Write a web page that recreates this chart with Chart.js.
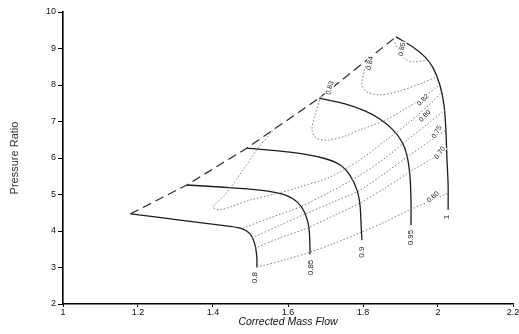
<!DOCTYPE html>
<html>
<head>
<meta charset="utf-8">
<script src="https://cdn.jsdelivr.net/npm/chart.js@4/dist/chart.umd.min.js"></script>
<style>
  html, body { margin: 0; padding: 0; background: #fff; }
  #map { display: block; }
</style>
</head>
<body>
<canvas id="map" width="519" height="334"></canvas>
<script>
// axis ticks
const xTickValues = [1, 1.2, 1.4, 1.6, 1.8, 2, 2.2];
const xTickLabels = ['1', '1.2', '1.4', '1.6', '1.8', '2', '2.2'];
const yTickValues = [2, 3, 4, 5, 6, 7, 8, 9, 10];
const yTickLabels = ['2', '3', '4', '5', '6', '7', '8', '9', '10'];

// surge line  [mass flow, pressure ratio]
const surgeLine = [[1.18, 4.47], [1.33, 5.26], [1.49, 6.27], [1.683, 7.64], [1.888, 9.32]];

// corrected speed lines
const speedNames = ['0.8', '0.85', '0.9', '0.95', '1'];
const speed080 = [[1.18, 4.47], [1.312, 4.30], [1.419, 4.16], [1.472, 4.08], [1.499, 3.92], [1.512, 3.62], [1.517, 3.26], [1.517, 3.01]];
const speed085 = [[1.33, 5.26], [1.419, 5.205], [1.525, 5.12], [1.592, 4.99], [1.627, 4.77], [1.645, 4.49], [1.656, 4.08], [1.659, 3.36]];
const speed090 = [[1.49, 6.27], [1.605, 6.16], [1.693, 6.0], [1.739, 5.81], [1.765, 5.53], [1.784, 5.12], [1.792, 4.71], [1.795, 4.16], [1.797, 3.75]];
const speed095 = [[1.683, 7.64], [1.752, 7.48], [1.805, 7.29], [1.845, 7.07], [1.88, 6.77], [1.904, 6.44], [1.917, 6.08], [1.925, 5.53], [1.928, 4.85], [1.928, 4.16]];
const speed100 = [[1.888, 9.32], [1.933, 9.04], [1.965, 8.77], [1.987, 8.47], [2.005, 8.0], [2.016, 7.45], [2.021, 6.77], [2.024, 5.95], [2.027, 5.26], [2.027, 4.58]];
const speedLabelAt = [[1.512, 2.72], [1.661, 3.0], [1.797, 3.42], [1.928, 3.82], [2.024, 4.38]];

// efficiency contours
const effNames = ['0.60', '0.70', '0.75', '0.80', '0.82', '0.83', '0.84', '0.85'];
const eff060 = [[1.517, 3.01], [1.592, 3.21], [1.659, 3.42], [1.725, 3.67], [1.792, 3.95], [1.859, 4.25], [1.925, 4.58], [1.979, 4.82], [2.027, 5.04]];
const eff070 = [[1.512, 3.53], [1.579, 3.81], [1.651, 4.08], [1.72, 4.41], [1.792, 4.77], [1.859, 5.18], [1.925, 5.62], [1.979, 5.95], [2.024, 6.22]];
const eff075 = [[1.504, 3.81], [1.579, 4.16], [1.651, 4.49], [1.72, 4.79], [1.792, 5.12], [1.859, 5.59], [1.925, 6.08], [1.979, 6.47], [2.021, 6.77]];
const eff080 = [[1.48, 4.08], [1.552, 4.36], [1.632, 4.66], [1.712, 5.07], [1.792, 5.53], [1.859, 6.0], [1.925, 6.55], [1.979, 6.99], [2.019, 7.32]];
const eff082 = [[1.565, 6.81], [1.52, 6.27], [1.48, 5.67], [1.432, 4.99], [1.40, 4.66], [1.419, 4.58], [1.499, 4.85], [1.565, 5.01], [1.632, 5.21], [1.712, 5.48], [1.792, 5.95], [1.859, 6.47], [1.925, 6.99], [1.979, 7.48], [2.011, 7.81]];
const eff083 = [[1.688, 7.68], [1.672, 7.18], [1.664, 6.77], [1.675, 6.55], [1.707, 6.49], [1.752, 6.60], [1.792, 6.77], [1.859, 7.04], [1.925, 7.42], [1.965, 7.70], [2.0, 7.97]];
const eff084 = [[1.813, 8.71], [1.803, 8.36], [1.797, 8.0], [1.811, 7.81], [1.845, 7.73], [1.899, 7.84], [1.952, 8.03], [1.995, 8.22]];
const eff085 = [[1.88, 9.25], [1.899, 8.90], [1.912, 8.71], [1.933, 8.63], [1.968, 8.68]];
const effLabelAt = [[1.987, 4.93], [2.005, 6.14], [1.997, 6.71], [1.965, 7.15], [1.96, 7.59], [1.712, 7.92], [1.819, 8.60], [1.904, 8.98]];
const effLabelAngle = [-40, -55, -60, -45, -45, -75, -80, -80];

const toPts = arr => arr.map(p => ({ x: p[0], y: p[1] }));

const speedSets = [speed080, speed085, speed090, speed095, speed100].map(s => ({
    data: toPts(s),
    showLine: true,
    borderColor: '#1c1c1c',
    borderWidth: 1.3,
    pointRadius: 0,
    tension: 0.3
}));

const effSets = [eff060, eff070, eff075, eff080, eff082, eff083, eff084, eff085].map(s => ({
    data: toPts(s),
    showLine: true,
    borderColor: '#7a7a7a',
    borderWidth: 1,
    borderDash: [1.5, 2],
    pointRadius: 0,
    tension: 0.3
}));

const surgeSet = {
    data: toPts(surgeLine),
    showLine: true,
    borderColor: '#2a2a2a',
    borderWidth: 1.2,
    borderDash: [9, 5],
    pointRadius: 0,
    tension: 0
};

// inline contour labels, drawn in data coordinates
const labelPlugin = {
    id: 'mapLabels',
    afterDatasetsDraw(chart) {
        const { ctx, scales: { x, y } } = chart;
        const put = (text, pos, angle, size) => {
            const px = x.getPixelForValue(pos[0]);
            const py = y.getPixelForValue(pos[1]);
            ctx.save();
            ctx.translate(px, py);
            ctx.rotate(angle * Math.PI / 180);
            ctx.font = size + 'px "Liberation Sans", Arial, sans-serif';
            ctx.textAlign = 'center';
            ctx.textBaseline = 'middle';
            const w = ctx.measureText(text).width;
            ctx.fillStyle = '#fff';
            ctx.fillRect(-w / 2 - 1, -size / 2, w + 2, size);
            ctx.fillStyle = '#222';
            ctx.fillText(text, 0, 0);
            ctx.restore();
        };
        speedNames.forEach((t, i) => put(t, speedLabelAt[i], -90, 8));
        effNames.forEach((t, i) => put(t, effLabelAt[i], effLabelAngle[i], 7));
    }
};

new Chart(document.getElementById('map'), {
    type: 'scatter',
    data: { datasets: [...effSets, surgeSet, ...speedSets] },
    options: {
        responsive: false,
        animation: false,
        events: [],
        layout: { padding: { top: 12, right: 6, left: 0, bottom: 0 } },
        plugins: {
            legend: { display: false },
            tooltip: { enabled: false }
        },
        scales: {
            x: {
                type: 'linear',
                min: 1,
                max: 2.2,
                afterBuildTicks: scale => { scale.ticks = xTickValues.map(v => ({ value: v })); },
                afterFit: scale => {
                    scale.height = 30;
                    scale.paddingLeft = 0;
                    scale.paddingRight = 0;
                },
                grid: { drawOnChartArea: false, drawTicks: true, tickLength: 3, color: '#000' },
                border: { display: true, color: '#000', width: 1.6 },
                ticks: {
                    padding: 0,
                    maxRotation: 0,
                    autoSkip: false,
                    color: '#111',
                    font: { family: '"Liberation Sans", Arial, sans-serif', size: 9 },
                    callback: (v, i) => xTickLabels[i]
                },
                title: {
                    display: true,
                    text: 'Corrected Mass Flow',
                    color: '#111',
                    padding: { top: 0, bottom: 6 },
                    font: { family: '"Liberation Sans", Arial, sans-serif', size: 10.5, style: 'italic' }
                }
            },
            y: {
                type: 'linear',
                min: 2,
                max: 10,
                afterBuildTicks: scale => { scale.ticks = yTickValues.map(v => ({ value: v })); },
                afterFit: scale => { scale.width = 63; },
                grid: { drawOnChartArea: false, drawTicks: true, tickLength: 5, color: '#000' },
                border: { display: true, color: '#000', width: 1.6 },
                ticks: {
                    padding: 2,
                    autoSkip: false,
                    color: '#111',
                    font: { family: '"Liberation Sans", Arial, sans-serif', size: 9 },
                    callback: (v, i) => yTickLabels[i]
                },
                title: {
                    display: true,
                    text: 'Pressure Ratio',
                    color: '#333',
                    padding: { top: 8, bottom: 0 },
                    font: { family: '"Liberation Sans", Arial, sans-serif', size: 11 }
                }
            }
        }
    },
    plugins: [labelPlugin]
});
</script>
</body>
</html>
